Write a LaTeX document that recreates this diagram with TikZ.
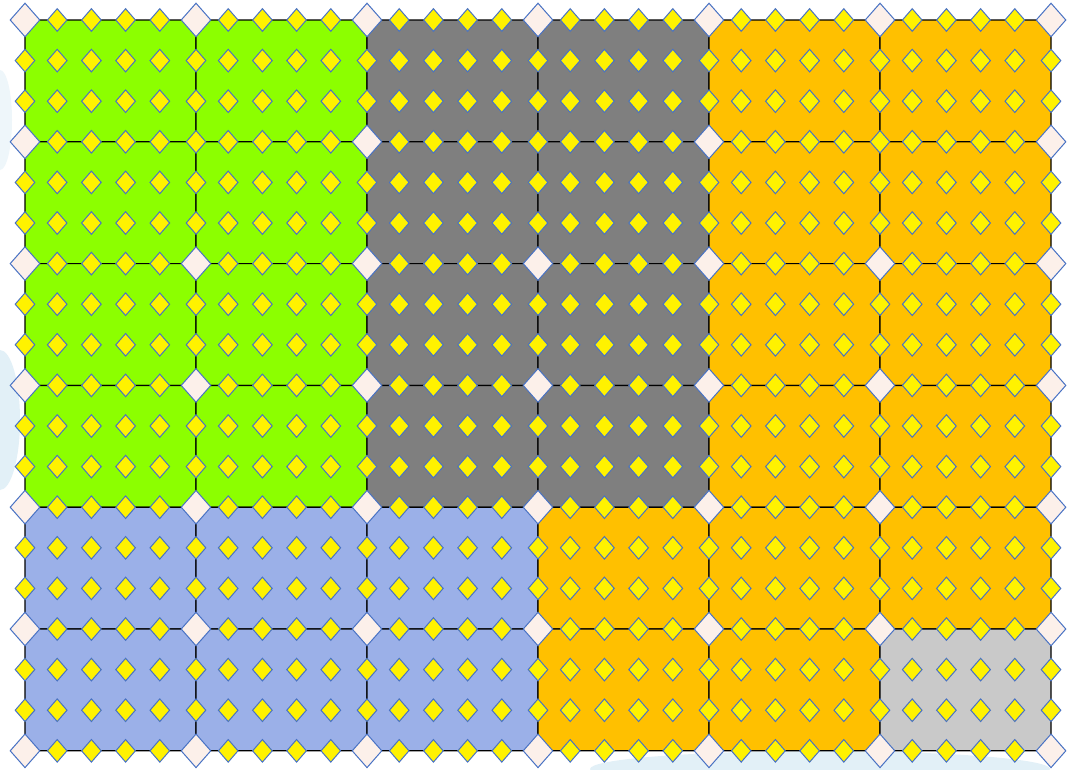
\documentclass[tikz,border=0pt]{standalone}
\usetikzlibrary{shapes.geometric}

\definecolor{meshgreen}{RGB}{140,255,0}
\definecolor{meshgray}{RGB}{127,127,127}
\definecolor{meshorange}{RGB}{255,192,0}
\definecolor{meshblue}{RGB}{155,176,232}
\definecolor{meshlight}{RGB}{201,201,201}
\definecolor{nodeblue}{RGB}{72,114,196}
\definecolor{cornerfill}{RGB}{252,240,234}
\definecolor{skyblue}{RGB}{214,234,244}

\tikzset{
  cell/.style={draw=black, line width=1.2pt, rounded corners=3pt},
  midnode/.style={diamond, draw=nodeblue, fill=yellow, line width=1pt,
    inner sep=0pt, minimum width=20pt, minimum height=23pt},
  cornernode/.style={diamond, draw=nodeblue, fill=cornerfill, line width=1pt,
    inner sep=0pt, minimum width=30pt, minimum height=34pt}
}

\begin{document}
\begin{tikzpicture}[x=1pt,y=-1pt]
    % Page
    \useasboundingbox (0,0) rectangle (1075,769);
    \fill[white] (0,0) rectangle (1075,769);

    % Sky showing round the mesh
    \fill[skyblue,opacity=0.7] (0,420) ellipse (20 and 70);
    \fill[skyblue,opacity=0.4] (0,120) ellipse (12 and 50);
    \fill[skyblue,opacity=0.7] (820,769) ellipse (230 and 18);

    % Elements
    \foreach [count=\r from 0] \rowcols in {
        {meshgreen,meshgreen,meshgray,meshgray,meshorange,meshorange},
        {meshgreen,meshgreen,meshgray,meshgray,meshorange,meshorange},
        {meshgreen,meshgreen,meshgray,meshgray,meshorange,meshorange},
        {meshgreen,meshgreen,meshgray,meshgray,meshorange,meshorange},
        {meshblue,meshblue,meshblue,meshorange,meshorange,meshorange},
        {meshblue,meshblue,meshblue,meshorange,meshorange,meshlight}} {
      \foreach [count=\c from 0] \col in \rowcols {
        \filldraw[cell,fill=\col] (25+171*\c,20+121.8*\r) rectangle ++(171,121.8);
      }
    }

    % Mid nodes
    \foreach \i in {0,...,30} {
      \foreach \j in {0,...,18} {
        \pgfmathsetmacro\xx{25+34.2*\i-(mod(\i,5)>0 ? 2 : 0)}
        \pgfmathsetmacro\yy{20+40.6*\j}
        \pgfmathtruncatemacro\iscorner{and(mod(\i,5)==0,mod(\j,3)==0)}
        \ifnum\iscorner=0
          \node[midnode] (m-\i-\j) at (\xx,\yy) {};
        \fi
      }
    }

    % Corner nodes
    \foreach \c in {0,...,6} {
      \foreach \r in {0,...,6} {
        \pgfmathtruncatemacro\isyellow{and(\r==1,mod(\c,2)==1)}
        \ifnum\isyellow=1
          \node[midnode] (k-\c-\r) at (25+171*\c,20+121.8*\r) {};
        \else
          \node[cornernode] (k-\c-\r) at (25+171*\c,20+121.8*\r) {};
        \fi
      }
    }
\end{tikzpicture}
\end{document}
